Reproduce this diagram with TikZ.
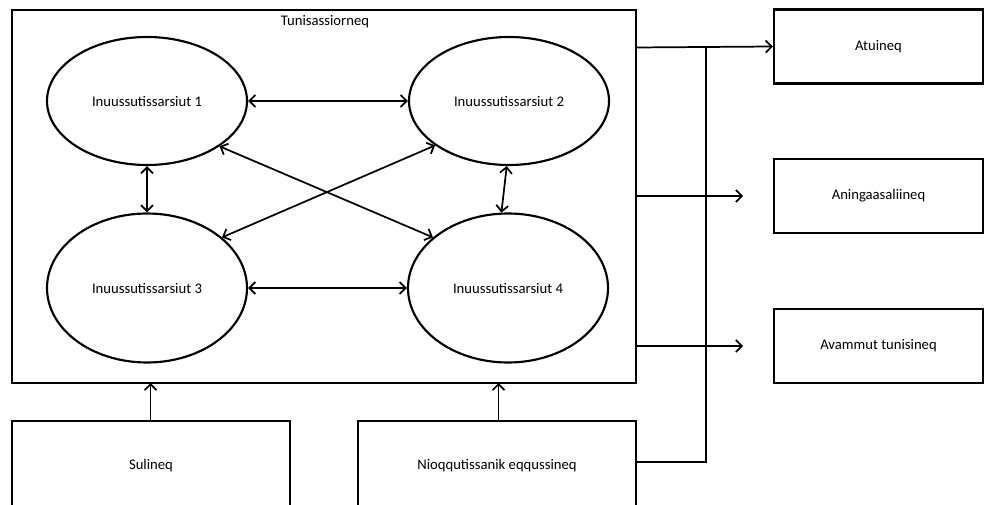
\documentclass[tikz,border=0pt]{standalone}
\usepackage{fontspec}
\setmainfont{Carlito}
\usetikzlibrary{arrows.meta,shapes.geometric}
\begin{document}
\begin{tikzpicture}[x=0.75pt,y=-0.75pt,
  font=\fontsize{11}{13}\selectfont,
  shape line/.style={draw=black,line width=1.6pt},
  box/.style={shape line,rectangle,inner sep=0pt},
  oval/.style={shape line,ellipse,inner sep=0pt,minimum width=150pt},
  conn/.style={line width=1.3pt,-{Straight Barb[length=4.5pt,width=9pt]}},
  dconn/.style={line width=1.3pt,{Straight Barb[length=4.5pt,width=9pt]}-{Straight Barb[length=4.5pt,width=9pt]}},
  plain/.style={line width=1.4pt}]
\useasboundingbox (0,0) rectangle (987,505);
\clip (0,0) rectangle (987,505);
% main box
\node[box,minimum width=468pt,minimum height=280pt] (main) at (324,196.5) {};
\node (title) at (325,22) {Tunisassiorneq};
% ellipses
\node[oval,minimum height=96pt] (e1) at (147,101) {Inuussutissarsiut 1};
\node[oval,minimum height=96pt] (e2) at (509,101) {Inuussutissarsiut 2};
\node[oval,minimum height=111.75pt] (e3) at (147,288) {Inuussutissarsiut 3};
\node[oval,minimum height=111.75pt] (e4) at (508,288) {Inuussutissarsiut 4};
% right boxes
\node[box,minimum width=156.75pt,minimum height=55.5pt] (atu) at (878.5,46.5) {Atuineq};
\node[box,minimum width=156.75pt,minimum height=55.5pt] (ani) at (878.5,196) {Aningaasaliineq};
\node[box,minimum width=156.75pt,minimum height=55.5pt] (ava) at (878.5,346) {Avammut tunisineq};
% bottom boxes
\node[box,minimum width=208.5pt,minimum height=75pt] (sul) at (151,471) {};
\node (sultext) at (151,466) {Sulineq};
\node[box,minimum width=208.5pt,minimum height=75pt] (nio) at (497,471) {};
\node (niotext) at (497,466) {Nioqqutissanik eqqussineq};
% coordinates for free ends
\coordinate (mA) at (636,47.5);
\coordinate (jA) at (706,47.5);
\coordinate (mB) at (636,196);
\coordinate (tB) at (743,196);
\coordinate (mC) at (636,346);
\coordinate (tC) at (743,346);
\coordinate (nR) at (636,462);
\coordinate (jN) at (706,462);
\coordinate (sU) at (150.5,421);
\coordinate (sM) at (150.5,383);
\coordinate (nU) at (498.5,421);
\coordinate (nM) at (498.5,383);
% connectors between ellipses
\draw[dconn] (e1) -- (e2);
\draw[dconn] (e3) -- (e4);
\draw[dconn] (e1) -- (e3);
\draw[dconn] (e2.268) -- (e4.95);
\draw[dconn] (e1.-32) -- (e4.146);
\draw[dconn] (e2.211) -- (e3.34);
% outputs
\draw[conn] (mA) -- (atu.west);
\draw[conn] (mB) -- (tB);
\draw[conn] (mC) -- (tC);
\draw[plain] (nR) -- (jN) -- (jA);
% inputs
\draw[conn] (sU) -- (sM);
\draw[conn] (nU) -- (nM);
\end{tikzpicture}
\end{document}
